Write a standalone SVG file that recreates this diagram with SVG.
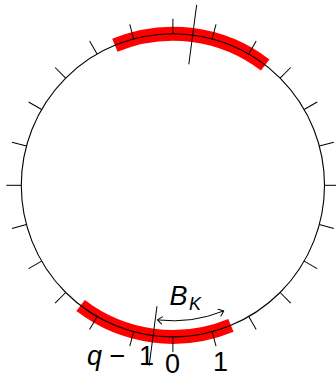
<svg xmlns="http://www.w3.org/2000/svg" xmlns:xlink="http://www.w3.org/1999/xlink" width="336" height="378" viewBox="0 0 336 378">
  <style>
    .band { fill: none; stroke: #ff0000; stroke-width: 14; }
    .ring { fill: none; stroke: #000; stroke-width: 1.1; }
    .tick { stroke: #000; stroke-width: 1; }
    .cut { stroke: #000; stroke-width: 1; }
    .arr { fill: none; stroke: #000; stroke-width: 1; }
    .lbl { font-family: "Liberation Sans", Arial, sans-serif; font-size: 27px; fill: #000; }
    .it { font-style: italic; }
  </style>
  <defs>
    <line id="tk" class="tick" x1="151.6" y1="0" x2="166.6" y2="0"/>
    <marker id="tip" viewBox="-6 -5 8 10" refX="0" refY="0" markerWidth="8" markerHeight="10" markerUnits="userSpaceOnUse" orient="auto-start-reverse">
      <path d="M -4.5 -3.6 Q -1.2 -1.2 0 0 Q -1.2 1.2 -4.5 3.6" fill="none" stroke="#000" stroke-width="1" stroke-linecap="round"/>
    </marker>
  </defs>

  <g id="bands">
    <path class="band" d="M 114.89 45.24 A 151.6 151.6 0 0 1 265.19 65.03"/>
    <path class="band" d="M 230.91 325.36 A 151.6 151.6 0 0 1 80.61 305.57"/>
  </g>

  <g id="circle">
    <circle class="ring" cx="172.9" cy="185.3" r="151.6"/>
  </g>

  <g id="ticks" transform="translate(172.9 185.3)">
    <use xlink:href="#tk" transform="rotate(0)"/>
    <use xlink:href="#tk" transform="rotate(15)"/>
    <use xlink:href="#tk" transform="rotate(30)"/>
    <use xlink:href="#tk" transform="rotate(45)"/>
    <use xlink:href="#tk" transform="rotate(60)"/>
    <use xlink:href="#tk" transform="rotate(75)"/>
    <use xlink:href="#tk" transform="rotate(90)"/>
    <use xlink:href="#tk" transform="rotate(105)"/>
    <use xlink:href="#tk" transform="rotate(120)"/>
    <use xlink:href="#tk" transform="rotate(135)"/>
    <use xlink:href="#tk" transform="rotate(150)"/>
    <use xlink:href="#tk" transform="rotate(165)"/>
    <use xlink:href="#tk" transform="rotate(180)"/>
    <use xlink:href="#tk" transform="rotate(195)"/>
    <use xlink:href="#tk" transform="rotate(210)"/>
    <use xlink:href="#tk" transform="rotate(225)"/>
    <use xlink:href="#tk" transform="rotate(240)"/>
    <use xlink:href="#tk" transform="rotate(255)"/>
    <use xlink:href="#tk" transform="rotate(270)"/>
    <use xlink:href="#tk" transform="rotate(285)"/>
    <use xlink:href="#tk" transform="rotate(300)"/>
    <use xlink:href="#tk" transform="rotate(315)"/>
    <use xlink:href="#tk" transform="rotate(330)"/>
    <use xlink:href="#tk" transform="rotate(345)"/>
  </g>

  <g id="cuts">
    <line class="cut" x1="188.82" y1="64.34" x2="196.66" y2="4.86"/>
    <line class="cut" x1="156.98" y1="306.26" x2="149.14" y2="365.74"/>
  </g>

  <g id="connectors">
    <path class="arr" d="M 157.56 319.93 A 135.5 135.5 0 0 0 223.66 310.93" marker-start="url(#tip)" marker-end="url(#tip)"/>
  </g>

  <g id="label-BK">
    <text class="lbl it" x="169.5" y="305">B</text>
    <text class="lbl it" x="189" y="310" style="font-size:18px">K</text>
  </g>
  <g id="label-qminus1">
    <text class="lbl it" x="87" y="365">q</text>
    <text class="lbl" x="109.5" y="365" textLength="16" lengthAdjust="spacingAndGlyphs">−</text>
    <text class="lbl" x="146.5" y="365" text-anchor="middle">1</text>
  </g>
  <g id="label-0">
    <text class="lbl" x="172.5" y="372.5" text-anchor="middle">0</text>
  </g>
  <g id="label-1">
    <text class="lbl" x="220.5" y="370.5" text-anchor="middle">1</text>
  </g>
</svg>
